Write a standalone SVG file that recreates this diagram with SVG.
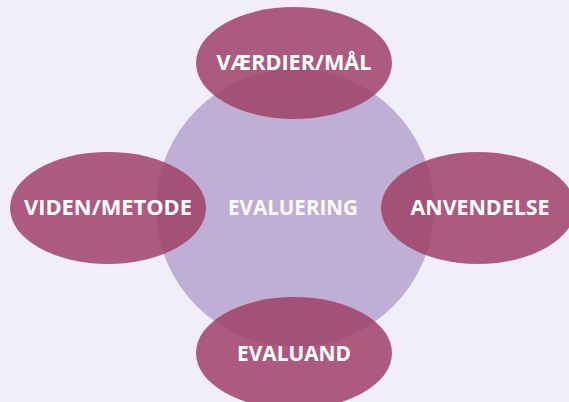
<svg xmlns="http://www.w3.org/2000/svg" width="569" height="402" viewBox="0 0 569 402">
<style>
.e{fill:#9e3d65;fill-opacity:0.83}
.t{font-family:"Open Sans","Liberation Sans",sans-serif;font-weight:bold;font-size:20.5px;fill:#ffffff;text-anchor:middle}
</style>
<rect width="569" height="402" fill="#f2eef9"/>
<g id="evaluering">
<circle cx="295" cy="208" r="139" fill="#c0afd4"/>
<text class="t" x="293" y="215" fill-opacity="0.95" textLength="130" lengthAdjust="spacingAndGlyphs">EVALUERING</text>
</g>
<g id="connectors"></g>
<g id="vaerdier">
<ellipse class="e" cx="294" cy="63" rx="98" ry="56"/>
<text class="t" x="294" y="69.5" textLength="155" lengthAdjust="spacingAndGlyphs">VÆRDIER/MÅL</text>
</g>
<g id="viden">
<ellipse class="e" cx="108" cy="208" rx="98" ry="56"/>
<text class="t" x="108" y="215" textLength="168" lengthAdjust="spacingAndGlyphs">VIDEN/METODE</text>
</g>
<g id="anvendelse">
<ellipse class="e" cx="478" cy="208" rx="97" ry="56"/>
<text class="t" x="480" y="215" textLength="139" lengthAdjust="spacingAndGlyphs">ANVENDELSE</text>
</g>
<g id="evaluand">
<ellipse class="e" cx="294" cy="353" rx="98" ry="56"/>
<text class="t" x="294" y="361" textLength="114" lengthAdjust="spacingAndGlyphs">EVALUAND</text>
</g>
</svg>
